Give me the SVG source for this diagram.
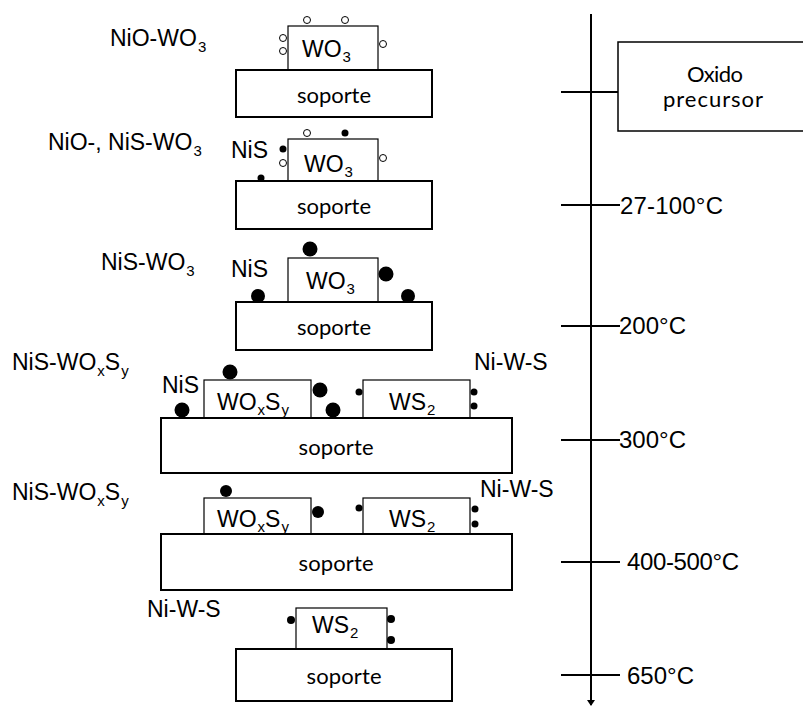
<svg xmlns="http://www.w3.org/2000/svg" width="803" height="711" viewBox="0 0 803 711">
<defs>
<style>
.bg{fill:#fff}
.sup{fill:#fff;stroke:#000;stroke-width:2}
.cat{fill:#fff;stroke:#000;stroke-width:1.2}
.lbl{font-family:"Liberation Sans",Arial,sans-serif;font-size:23px;fill:#000}
.sub{font-size:15px}
.sop{font-family:Lato,"Open Sans",sans-serif;font-size:22px;fill:#000}
.tmp{font-family:"Liberation Sans",Arial,sans-serif;font-size:24px;fill:#000}
.o{fill:#fff;stroke:#000;stroke-width:1}
.f{fill:#000}
.ax{stroke:#000;stroke-width:2;fill:none}
</style>
<marker id="arr" markerWidth="8" markerHeight="6" refX="4" refY="5" orient="0" markerUnits="userSpaceOnUse">
<path d="M0,0 L8,0 L4,6 Z" fill="#000"/>
</marker>
</defs>
<rect class="bg" x="0" y="0" width="803" height="711"/>

<g id="connectors">
<line class="ax" x1="591" y1="14" x2="591" y2="705" marker-end="url(#arr)"/>
<line class="ax" x1="561" y1="92" x2="618" y2="92"/>
<line class="ax" x1="561" y1="205" x2="620" y2="205"/>
<line class="ax" x1="561" y1="326" x2="620" y2="326"/>
<line class="ax" x1="561" y1="440" x2="620" y2="440"/>
<line class="ax" x1="561" y1="562" x2="620" y2="562"/>
<line class="ax" x1="561" y1="675" x2="620" y2="675"/>
</g>

<g id="oxido">
<rect x="618" y="42" width="190" height="89" fill="#fff" stroke="#000" stroke-width="1.5"/>
<text class="sop" x="715" y="82" text-anchor="middle" font-size="23" textLength="56">Oxido</text>
<text class="sop" x="713" y="107" text-anchor="middle" font-size="23" textLength="100">precursor</text>
</g>

<g id="temps">
<text class="tmp" x="620" y="214" textLength="103">27-100°C</text>
<text class="tmp" x="619" y="334">200°C</text>
<text class="tmp" x="619" y="448">300°C</text>
<text class="tmp" x="627" y="570" textLength="112">400-500°C</text>
<text class="tmp" x="627" y="684">650°C</text>
</g>

<g id="panel1">
<text class="lbl" x="110" y="46">NiO-WO<tspan class="sub" dx="1" dy="6">3</tspan></text>
<rect class="cat" x="288" y="26" width="90" height="44"/>
<rect class="sup" x="236" y="70" width="196" height="47"/>
<text class="lbl" x="302" y="57">WO<tspan class="sub" dx="1" dy="5">3</tspan></text>
<text class="sop" x="334" y="103" text-anchor="middle" textLength="74">soporte</text>
<circle class="o" cx="307" cy="20" r="3.5"/>
<circle class="o" cx="345" cy="20" r="3.5"/>
<circle class="o" cx="283" cy="38" r="3.5"/>
<circle class="o" cx="283" cy="51" r="3.5"/>
<circle class="o" cx="383" cy="44" r="3.5"/>
</g>

<g id="panel2">
<text class="lbl" x="48" y="150">NiO-, NiS-WO<tspan class="sub" dx="1" dy="6">3</tspan></text>
<text class="lbl" x="231" y="158">NiS</text>
<rect class="cat" x="288" y="139" width="90" height="42"/>
<rect class="sup" x="236" y="181" width="196" height="48"/>
<text class="lbl" x="304" y="172">WO<tspan class="sub" dx="1" dy="5">3</tspan></text>
<text class="sop" x="334" y="214" text-anchor="middle" textLength="74">soporte</text>
<circle class="o" cx="307" cy="133" r="3.5"/>
<circle class="f" cx="345" cy="133" r="3.5"/>
<circle class="f" cx="283" cy="149" r="3.5"/>
<circle class="o" cx="283" cy="163" r="3.5"/>
<circle class="o" cx="383" cy="158" r="3.5"/>
<circle class="f" cx="261" cy="178" r="3.5"/>
</g>

<g id="panel3">
<text class="lbl" x="101" y="270">NiS-WO<tspan class="sub" dx="1" dy="6">3</tspan></text>
<text class="lbl" x="231" y="277">NiS</text>
<rect class="cat" x="288" y="258" width="90" height="44"/>
<rect class="sup" x="236" y="302" width="196" height="48"/>
<text class="lbl" x="306" y="289">WO<tspan class="sub" dx="1" dy="5">3</tspan></text>
<text class="sop" x="334" y="335" text-anchor="middle" textLength="74">soporte</text>
<circle class="f" cx="310" cy="249" r="7.5"/>
<circle class="f" cx="386" cy="274" r="7.5"/>
<circle class="f" cx="258" cy="296" r="7"/>
<circle class="f" cx="408" cy="296" r="7"/>
</g>

<g id="panel4">
<text class="lbl" x="12" y="370">NiS-WO<tspan class="sub" dx="1" dy="6">x</tspan><tspan dy="-6">S</tspan><tspan class="sub" dx="1" dy="6">y</tspan></text>
<text class="lbl" x="162" y="393">NiS</text>
<text class="lbl" x="474" y="370">Ni-W-S</text>
<rect class="cat" x="204" y="380" width="107" height="38"/>
<rect class="cat" x="363" y="380" width="107" height="38"/>
<rect class="sup" x="161" y="418" width="351" height="55"/>
<text class="lbl" x="217" y="410">WO<tspan class="sub" dx="1" dy="5">x</tspan><tspan dy="-5">S</tspan><tspan class="sub" dx="1" dy="5">y</tspan></text>
<text class="lbl" x="389" y="410">WS<tspan class="sub" dx="1" dy="5">2</tspan></text>
<text class="sop" x="336" y="455" text-anchor="middle" textLength="75">soporte</text>
<circle class="f" cx="230" cy="372" r="7.5"/>
<circle class="f" cx="182" cy="410" r="7.5"/>
<circle class="f" cx="320" cy="390" r="7.5"/>
<circle class="f" cx="333" cy="410" r="7.5"/>
<circle class="f" cx="359" cy="392" r="3.5"/>
<circle class="f" cx="474" cy="392" r="3.5"/>
<circle class="f" cx="474" cy="406" r="3.5"/>
</g>

<g id="panel5">
<text class="lbl" x="12" y="500">NiS-WO<tspan class="sub" dx="1" dy="6">x</tspan><tspan dy="-6">S</tspan><tspan class="sub" dx="1" dy="6">y</tspan></text>
<text class="lbl" x="480" y="497">Ni-W-S</text>
<rect class="cat" x="204" y="498" width="107" height="36"/>
<rect class="cat" x="363" y="498" width="107" height="36"/>
<rect class="sup" x="161" y="534" width="351" height="56"/>
<text class="lbl" x="217" y="527">WO<tspan class="sub" dx="1" dy="5">x</tspan><tspan dy="-5">S</tspan><tspan class="sub" dx="1" dy="5">y</tspan></text>
<text class="lbl" x="389" y="527">WS<tspan class="sub" dx="1" dy="5">2</tspan></text>
<text class="sop" x="336" y="571" text-anchor="middle" textLength="75">soporte</text>
<circle class="f" cx="226" cy="491" r="6"/>
<circle class="f" cx="318" cy="512" r="6"/>
<circle class="f" cx="359" cy="508" r="3.5"/>
<circle class="f" cx="475" cy="509" r="3.5"/>
<circle class="f" cx="475" cy="524" r="3.5"/>
</g>

<g id="panel6">
<text class="lbl" x="147" y="617">Ni-W-S</text>
<rect class="cat" x="296" y="608" width="91" height="41"/>
<rect class="sup" x="236" y="649" width="216" height="52"/>
<text class="lbl" x="312" y="633">WS<tspan class="sub" dx="1" dy="5">2</tspan></text>
<text class="sop" x="344" y="684" text-anchor="middle" textLength="75">soporte</text>
<circle class="f" cx="291" cy="620" r="4"/>
<circle class="f" cx="391" cy="619" r="4"/>
<circle class="f" cx="391" cy="640" r="4"/>
</g>
</svg>
